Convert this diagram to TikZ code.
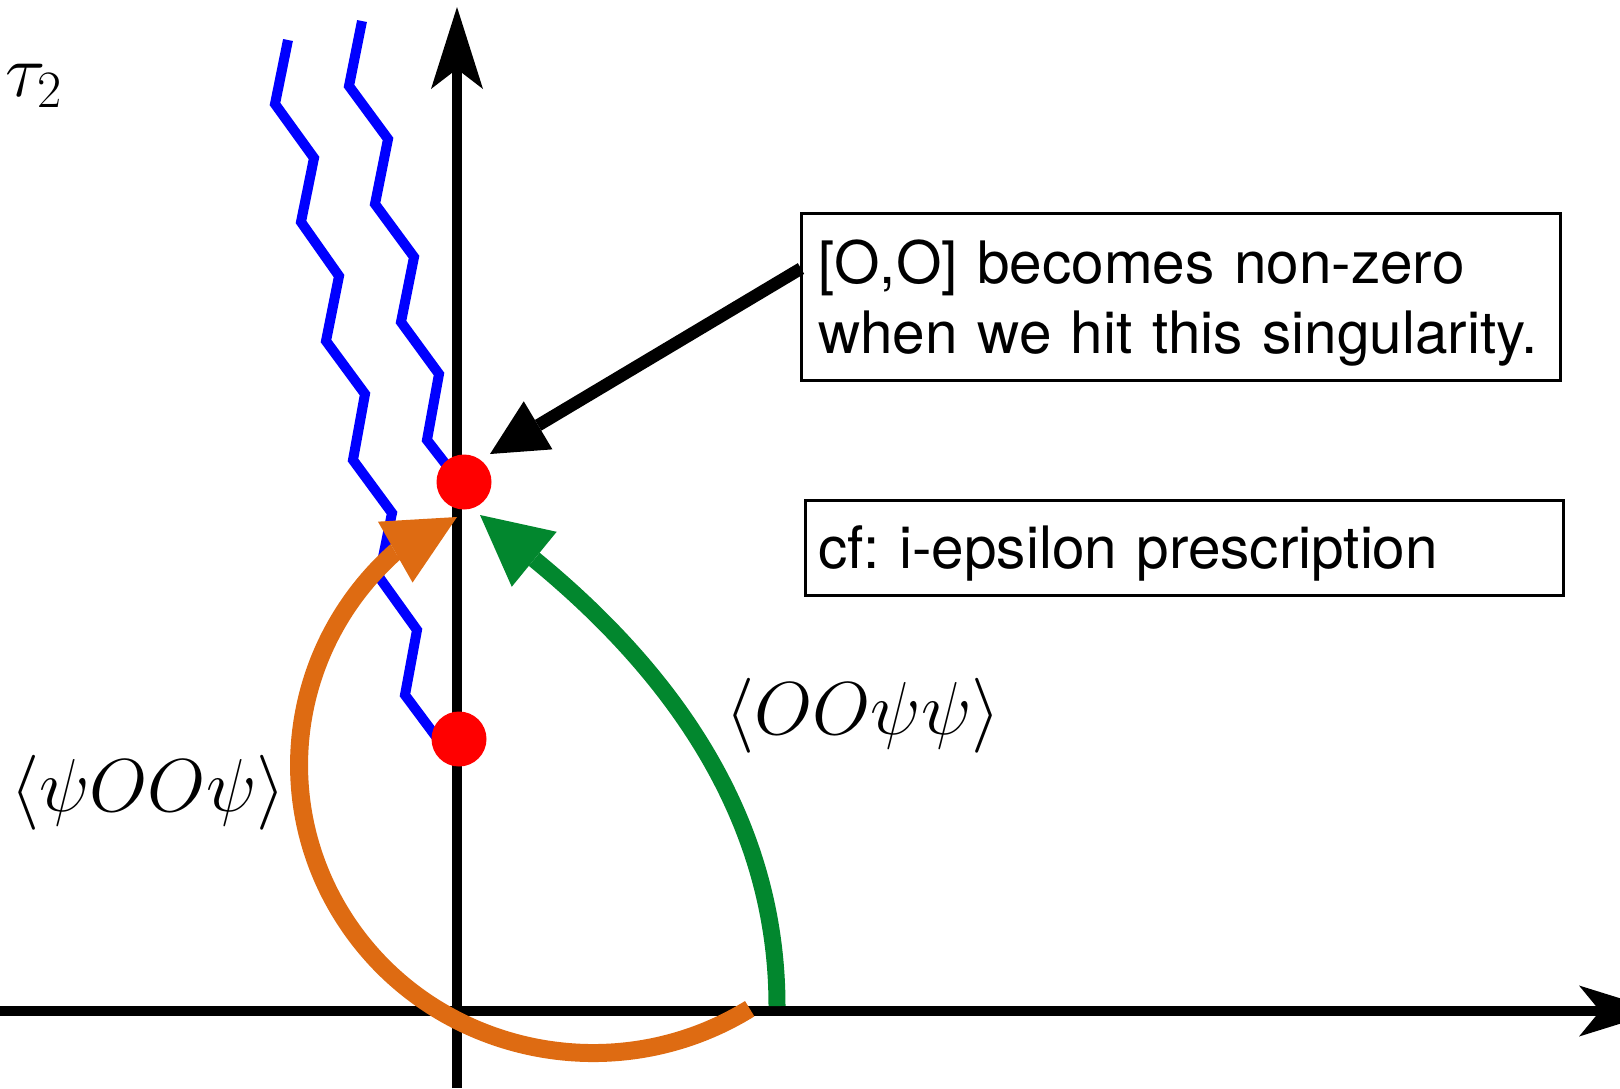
\RequirePackage{fix-cm}
\documentclass[tikz,border=0pt]{standalone}
\usepackage[no-math]{fontspec}
\setmainfont{TeX Gyre Heros}
\usetikzlibrary{arrows.meta}
\definecolor{zzblue}{RGB}{0,0,255}
\definecolor{zzorange}{RGB}{222,107,18}
\definecolor{zzgreen}{RGB}{2,135,46}
\begin{document}
\begin{tikzpicture}[x=1pt,y=-1pt,
  axisline/.style={line width=10pt, black},
  zig/.style={line width=10pt, zzblue},
  dot/.style={circle, fill=red, minimum size=55pt, inner sep=0pt},
  orangearc/.style={line width=18pt, zzorange},
  greenarc/.style={line width=17pt, zzgreen},
  callout/.style={line width=12.5pt, black},
  textbox/.style={draw=black, line width=3pt, outer sep=0pt, align=left,
    font=\fontsize{58.5}{70}\selectfont},
  mathlabel/.style={inner sep=0pt, font=\fontsize{75}{82}\selectfont}]
\useasboundingbox (0,0) rectangle (1620,1088);

% axes
\coordinate (ybot) at (457,1088);
\coordinate (ytop) at (457,7);
\coordinate (xleft) at (0,1011);
\coordinate (xright) at (1661,1011);
\draw[axisline, -{Stealth[length=82pt,width=52pt,inset=20pt,line width=0pt]}] (ybot) -- (ytop);
\draw[axisline, -{Stealth[length=82pt,width=51pt,inset=21pt,line width=0pt]}] (xleft) -- (xright);

% branch cuts
\draw[zig] (288,40) -- (275,104) -- (314,158) -- (301,222) -- (339,276) -- (326,341)
  -- (365,394) -- (353,460) -- (392,513) -- (379,577) -- (417,630) -- (405,695) -- (440,742);
\draw[zig] (362,21) -- (349,86) -- (388,139) -- (375,204) -- (414,257) -- (401,322)
  -- (439,374) -- (427,440) -- (458,480);

% contours
\coordinate (oStart) at (749.7,1008.7);
\coordinate (oTip) at (457,517);
\draw[orangearc, -{Triangle[length=71pt,width=70pt,line width=0pt]}]
  (oStart) arc[start angle=57.8, end angle=227.6, x radius=294, y radius=288] -- (oTip);

\coordinate (gStart) at (777,1006);
\coordinate (gBase) at (534.5,559.5);
\coordinate (gTip) at (480,515);
\draw[greenarc, -{Triangle[length=70pt,width=71pt,line width=0pt]}]
  (gStart) .. controls (777,806) and (658,661) .. (gBase) -- (gTip);

% singularities
\node[dot] (dotA) at (464,482) {};
\node[dot] (dotB) at (459,739) {};

% boxes
\node[textbox, anchor=north west, minimum width=759pt, minimum height=167pt,
  text width=725pt, inner xsep=17pt, text height=57pt, text depth=83pt]
  (box1) at (801,213) {[O,O] becomes non-zero\\when we hit this singularity.};
\node[textbox, anchor=north west, minimum width=757.5pt, minimum height=95pt,
  text width=732.5pt, inner xsep=12.5pt, text height=54pt, text depth=12pt]
  (box2) at (805.5,500) {cf:\ i-epsilon prescription};

\coordinate (cTip) at (490,454);
\draw[callout, -{Triangle[length=56pt,width=56pt,line width=0pt]}] ([yshift=28pt]box1.west) -- (cTip);

% labels
\node[mathlabel, anchor=base west] (lblG) at (725,734) {$\langle OO\psi\psi\rangle$};
\node[mathlabel, anchor=base west] (lblO) at (10,811) {$\langle\psi OO\psi\rangle$};
\node[mathlabel, anchor=base west] (tau) at (5,96) {$\tau_2$};
\end{tikzpicture}
\end{document}
